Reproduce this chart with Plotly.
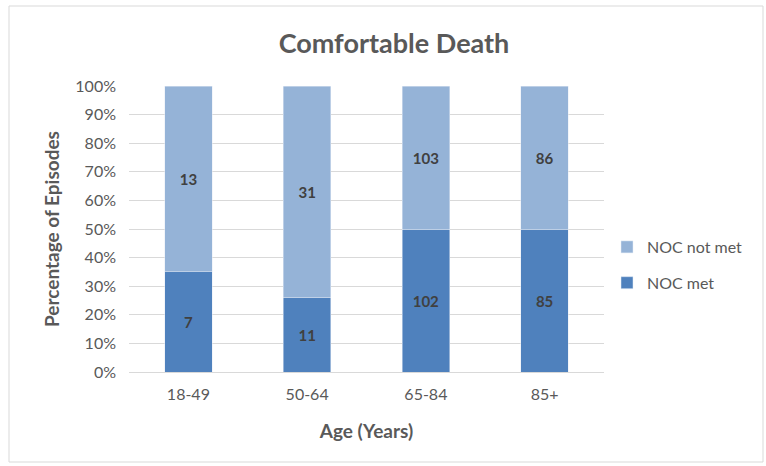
import plotly.graph_objects as go

# Age bands and episode counts per outcome
age_groups = ["18-49", "50-64", "65-84", "85+"]
noc_met = [7, 11, 102, 85]
noc_not_met = [13, 31, 103, 86]

color_met = "#4F81BD"
color_not_met = "#95B3D7"
text_grey = "#595959"
font_family = "Lato, 'Open Sans', sans-serif"

label_font = dict(color="#404040", size=15, family=font_family, weight="bold")

fig = go.Figure()
fig.add_trace(go.Bar(
    name="NOC met", x=age_groups, y=noc_met, marker_color=color_met,
    text=noc_met, textposition="inside", insidetextanchor="middle",
    textfont=label_font, legendgroup="met", legendrank=2,
))
fig.add_trace(go.Bar(
    name="NOC not met", x=age_groups, y=noc_not_met, marker_color=color_not_met,
    text=noc_not_met, textposition="inside", insidetextanchor="middle",
    textfont=label_font, legendgroup="notmet", legendrank=1,
))

W, H = 766, 466
L, R, T, B = 129, 10, 86, 94
plot_right = 604                     # right edge of the bar area in pixels
pw, ph = W - L - R, H - T - B

def px_to_paper_x(px):
    return (px - L) / pw

def px_to_paper_y(py):
    return (H - B - py) / ph

fig.update_layout(
    width=W, height=H,
    margin=dict(l=L, r=R, t=T, b=B, autoexpand=False),
    barmode="stack", barnorm="percent", bargap=0.6,
    plot_bgcolor="white", paper_bgcolor="white",
    font=dict(family=font_family, color=text_grey, size=16),
    title=dict(text="<b>Comfortable Death</b>", xref="container", x=394 / W,
               xanchor="center", yref="container", y=1 - 44 / H, yanchor="middle",
               font=dict(size=27, color=text_grey, family=font_family)),
    xaxis=dict(
        domain=[0, px_to_paper_x(plot_right)],
        title=dict(text="<b>Age (Years)</b>", font=dict(size=19, color=text_grey), standoff=22),
        showgrid=False, showline=True, linecolor="#D9D9D9", linewidth=1,
        ticks="", ticklabelstandoff=8, tickfont=dict(size=16, color=text_grey),
        automargin=False,
    ),
    yaxis=dict(
        title=dict(text="<b>Percentage of Episodes</b>", font=dict(size=19, color=text_grey), standoff=10),
        range=[0, 100], dtick=10, ticksuffix="%",
        showgrid=True, gridcolor="#D9D9D9", gridwidth=1, zeroline=False,
        ticks="", ticklabelstandoff=12, tickfont=dict(size=16, color=text_grey),
        automargin=False,
    ),
    legend=dict(
        x=px_to_paper_x(607), xanchor="left", y=px_to_paper_y(265), yanchor="middle",
        traceorder="grouped", tracegroupgap=12,
        font=dict(size=16, color=text_grey), itemwidth=30,
        bgcolor="rgba(0,0,0,0)",
    ),
    shapes=[dict(
        type="rect", xref="paper", yref="paper",
        x0=px_to_paper_x(9), x1=px_to_paper_x(763),
        y0=px_to_paper_y(462), y1=px_to_paper_y(6),
        line=dict(color="#D9D9D9", width=1), fillcolor="rgba(0,0,0,0)", layer="below",
    )],
)

fig.write_html("out.html")
